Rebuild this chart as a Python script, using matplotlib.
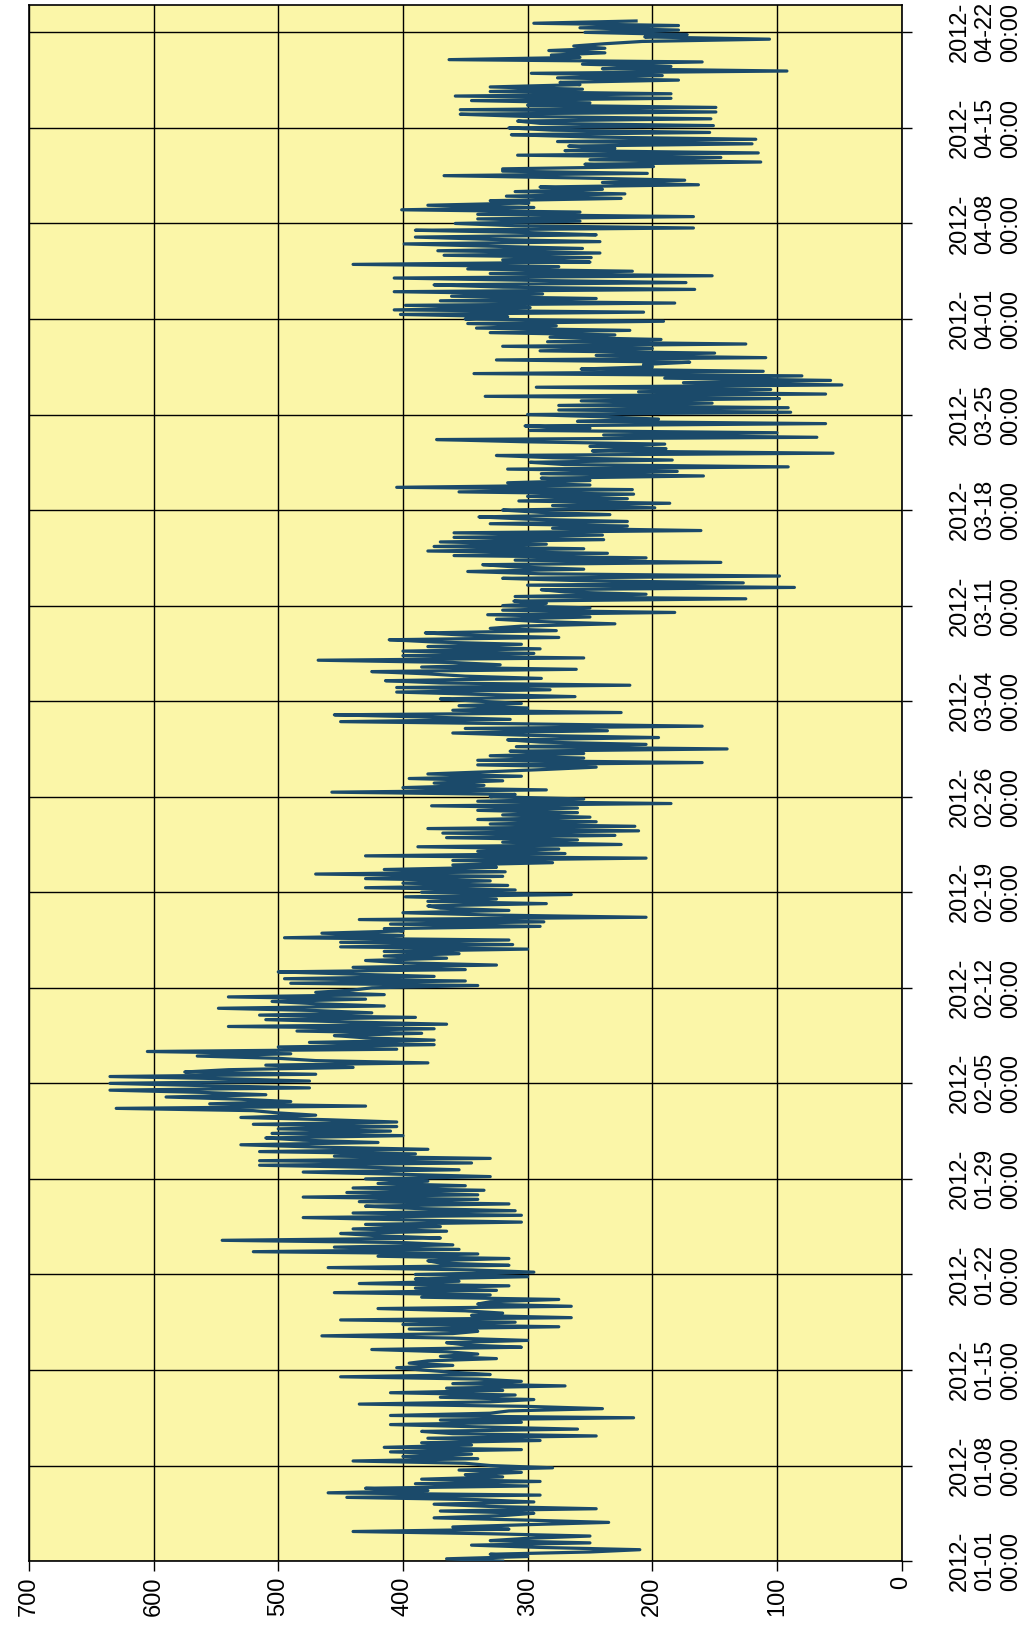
import pandas as pd
import matplotlib
matplotlib.use('Agg')
from matplotlib import pyplot as plt
import matplotlib.dates as mdates

plt.rcParams['font.family'] = ['Liberation Sans', 'DejaVu Sans']

# 4-hourly readings, one row per day
jan = [
    320, 365, 300, 330, 250, 210,
    290, 345, 250, 330, 300, 250,
    330, 440, 315, 360, 300, 235,
    300, 375, 320, 295, 370, 245,
    330, 375, 295, 340, 445, 290,
    460, 380, 430, 300, 390, 290,
    385, 320, 350, 305, 355, 280,
    330, 350, 440, 340, 400, 345,
    410, 305, 415, 345, 385, 290,
    380, 245, 360, 385, 260, 340,
    410, 305, 370, 215, 410, 330,
    315, 240, 300, 435, 330, 295,
    370, 310, 410, 320, 365, 270,
    360, 305, 340, 450, 330, 360,
    385, 405, 360, 395, 380, 325,
    370, 340, 365, 425, 305, 350,
    365, 300, 360, 465, 360, 340,
    395, 275, 400, 310, 450, 265,
    345, 320, 350, 420, 265, 340,
    330, 275, 385, 330, 455, 325,
    390, 315, 435, 355, 390, 300,
    390, 295, 345, 460, 315, 370,
    380, 315, 420, 340, 520, 355,
    455, 360, 400, 545, 370, 420,
    450, 365, 440, 370, 430, 305,
    400, 480, 305, 440, 310, 390,
    430, 315, 435, 340, 480, 340,
    445, 335, 440, 350, 420, 380,
    430, 330, 400, 480, 355, 420,
    515, 345, 515, 330, 455, 390,
    515, 380, 470, 530, 420, 480,
]
feb = [
    510, 400, 505, 410, 500, 405,
    520, 405, 460, 530, 470, 500,
    520, 630, 430, 555, 490, 530,
    590, 510, 560, 635, 475, 560,
    635, 475, 540, 635, 470, 575,
    540, 440, 510, 380, 470, 500,
    565, 490, 605, 405, 500, 375,
    475, 375, 430, 455, 385, 485,
    375, 540, 365, 445, 510, 390,
    515, 425, 470, 548, 415, 470,
    505, 430, 540, 415, 470, 440,
    425, 340, 490, 350, 495, 375,
    440, 500, 350, 440, 325, 400,
    430, 365, 415, 355, 415, 300,
    450, 312, 450, 315, 495, 400,
    465, 400, 415, 290, 410, 287,
    435, 205, 330, 400, 315, 370,
    380, 285, 380, 325, 398, 265,
    385, 310, 430, 316, 400, 330,
    430, 320, 470, 318, 415, 325,
    360, 280, 360, 205, 430, 270,
    340, 275, 388, 225, 320, 260,
    365, 230, 368, 211, 380, 214,
    330, 245, 340, 250, 320, 260,
    340, 260, 377, 185, 340, 255,
    330, 310, 457, 285, 400, 335,
    375, 320, 395, 305, 380, 330,
    285, 245, 340, 160, 340, 255,
    330, 255, 314, 140, 309, 205,
]
mar = [
    290, 316, 195, 300, 360, 236,
    350, 160, 300, 450, 314, 380,
    455, 225, 360, 300, 355, 305,
    340, 370, 262, 340, 405, 282,
    405, 218, 370, 414, 289, 350,
    380, 425, 261, 385, 322, 360,
    468, 255, 400, 295, 400, 290,
    380, 305, 375, 411, 275, 350,
    382, 277, 330, 305, 230, 290,
    325, 250, 332, 182, 320, 250,
    320, 285, 311, 125, 310, 205,
    270, 289, 86, 300, 127, 260,
    320, 98, 290, 348, 255, 310,
    336, 145, 310, 205, 359, 236,
    380, 255, 375, 285, 370, 239,
    359, 240, 359, 161, 280, 220,
    330, 220, 300, 339, 234, 290,
    320, 198, 280, 186, 307, 220,
    300, 215, 355, 216, 405, 250,
    316, 250, 289, 159, 289, 180,
    316, 91, 270, 298, 184, 280,
    325, 55, 248, 189, 250, 190,
    300, 373, 68, 239, 100, 298,
    250, 302, 61, 260, 195, 240,
    300, 89, 275, 91, 275, 152,
    257, 98, 334, 61, 211, 105,
    293, 48, 175, 57, 190, 80,
    343, 111, 257, 200, 207, 170,
    325, 109, 245, 150, 290, 200,
    320, 125, 284, 193, 282, 230,
    330, 218, 341, 277, 348, 191,
]
apr = [
    350, 316, 402, 207, 407, 298,
    398, 182, 370, 245, 361, 288,
    407, 166, 320, 375, 173, 300,
    407, 152, 330, 216, 348, 275,
    440, 250, 320, 249, 367, 242,
    372, 256, 330, 399, 242, 330,
    390, 245, 300, 390, 167, 310,
    358, 258, 340, 167, 340, 258,
    401, 295, 380, 299, 330, 225,
    317, 222, 310, 240, 290, 163,
    240, 174, 260, 367, 204, 320,
    320, 199, 254, 113, 250, 145,
    308, 115, 270, 230, 267, 120,
    276, 117, 250, 313, 154, 280,
    315, 151, 290, 308, 153, 300,
    354, 149, 354, 149, 300, 250,
    345, 185, 358, 185, 330, 256,
    330, 258, 274, 179, 276, 192,
    297, 92, 240, 185, 256, 160,
    363, 258, 281, 238, 283, 238,
    263, 238, 208, 106, 206, 172,
    254, 179, 258, 179, 295, 213,
]

values = jan + feb + mar + apr
times = pd.date_range('2012-01-01', periods=len(values), freq='4h')
week_ticks = pd.date_range('2012-01-01', '2012-04-22', freq='7D')

fig = plt.figure(figsize=(10.27, 16.29), dpi=100)
ax = fig.add_axes([0.0282, 0.0417, 0.8497, 0.9552])
ax.set_facecolor('#fbf6a8')

# the chart is turned on its side: values run right to left, time runs up
ax.plot(values, times, color='#1b4a6a', linewidth=2.3, zorder=3)

ax.set_xlim(700, 0)
ax.set_xticks(range(0, 701, 100))
ax.set_ylim(pd.Timestamp('2012-01-01'), pd.Timestamp('2012-04-24'))
ax.set_yticks(week_ticks)
ax.yaxis.set_major_formatter(mdates.DateFormatter('%Y-\n%m-%d\n%H:%M'))
ax.yaxis.tick_right()

ax.grid(True, color='black', linewidth=1.0, zorder=1)
ax.set_axisbelow(True)
for s in ax.spines.values():
    s.set_linewidth(1.2)

ax.tick_params(axis='both', direction='out', length=7, width=1, labelsize=17)
ax.tick_params(axis='x', pad=4)
ax.tick_params(axis='y', pad=27)
for lab in ax.get_xticklabels():
    lab.set_rotation(90)
for lab in ax.get_yticklabels():
    lab.set_rotation(90)
    lab.set_verticalalignment('center')
    lab.set_horizontalalignment('left')

fig.savefig('out.png', dpi=100)
